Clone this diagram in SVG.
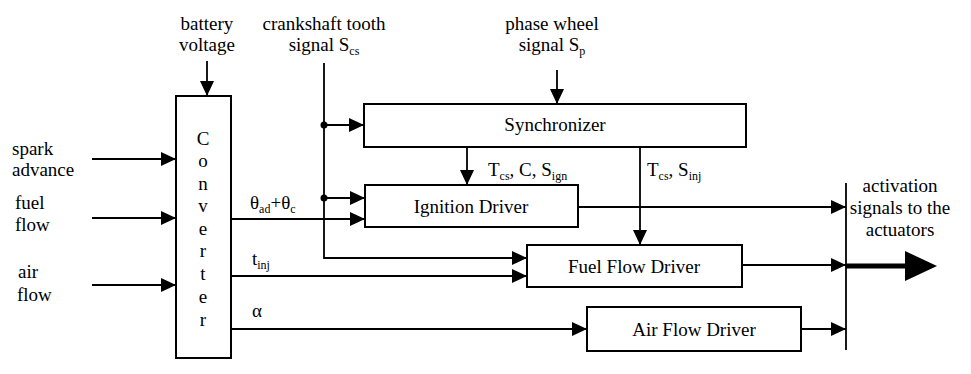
<svg xmlns="http://www.w3.org/2000/svg" width="971" height="374" viewBox="0 0 971 374">
<defs>
<style>
text{font-family:"Liberation Serif","Times New Roman",serif;font-size:19px;fill:#000}
.c{text-anchor:middle}
.sub{font-size:12px}
.box{fill:#fff;stroke:#000;stroke-width:2}
.ln{fill:none;stroke:#000;stroke-width:1.8}
</style>
<marker id="ah" markerUnits="userSpaceOnUse" markerWidth="16" markerHeight="16" refX="15" refY="7" orient="auto">
<path d="M0,0 L15,7 L0,14 Z" fill="#000"/>
</marker>
</defs>
<rect width="971" height="374" fill="#fff"/>

<g id="labels">
<text class="c" x="207" y="30">battery</text>
<text class="c" x="207" y="51">voltage</text>
<text class="c" x="324" y="30">crankshaft tooth</text>
<text class="c" x="324" y="51">signal S<tspan class="sub" dy="4">cs</tspan></text>
<text class="c" x="552" y="30">phase wheel</text>
<text class="c" x="552" y="51">signal S<tspan class="sub" dy="4">p</tspan></text>
<text x="12" y="155">spark</text>
<text x="12" y="176">advance</text>
<text x="15" y="209">fuel</text>
<text x="15" y="231">flow</text>
<text x="18" y="278">air</text>
<text x="17" y="301">flow</text>
<text x="250" y="209">θ<tspan class="sub" dy="4">ad</tspan><tspan dy="-4">+θ</tspan><tspan class="sub" dy="4">c</tspan></text>
<text x="252" y="265">t<tspan class="sub" dy="4">inj</tspan></text>
<text x="252" y="317">α</text>
<text x="488" y="176">T<tspan class="sub" dy="4">cs</tspan><tspan dy="-4">, C, S</tspan><tspan class="sub" dy="4">ign</tspan></text>
<text x="647" y="176">T<tspan class="sub" dy="4">cs</tspan><tspan dy="-4">, S</tspan><tspan class="sub" dy="4">inj</tspan></text>
<text class="c" x="900" y="192">activation</text>
<text class="c" x="900" y="214">signals to the</text>
<text class="c" x="900" y="236">actuators</text>
</g>

<g id="converter">
<rect class="box" x="176" y="96" width="55" height="262"/>
<text class="c" x="203" y="145">C</text>
<text class="c" x="203" y="167">o</text>
<text class="c" x="203" y="190">n</text>
<text class="c" x="203" y="212">v</text>
<text class="c" x="203" y="235">e</text>
<text class="c" x="203" y="257">r</text>
<text class="c" x="203" y="280">t</text>
<text class="c" x="203" y="303">e</text>
<text class="c" x="203" y="326">r</text>
</g>

<g id="synchronizer">
<rect class="box" x="364" y="104" width="382" height="43"/>
<text class="c" x="555" y="131">Synchronizer</text>
</g>

<g id="ignition-driver">
<rect class="box" x="365" y="185" width="213" height="42"/>
<text class="c" x="471" y="213">Ignition Driver</text>
</g>

<g id="fuel-flow-driver">
<rect class="box" x="527" y="245" width="215" height="42"/>
<text class="c" x="634" y="273">Fuel Flow Driver</text>
</g>

<g id="air-flow-driver">
<rect class="box" x="587" y="307" width="214" height="44"/>
<text class="c" x="694" y="336">Air Flow Driver</text>
</g>

<g id="connectors">
<line class="ln" x1="207" y1="61" x2="207" y2="96" marker-end="url(#ah)"/>
<line class="ln" x1="557" y1="70" x2="557" y2="104" marker-end="url(#ah)"/>
<line class="ln" x1="92" y1="159" x2="176" y2="159" marker-end="url(#ah)"/>
<line class="ln" x1="92" y1="218" x2="176" y2="218" marker-end="url(#ah)"/>
<line class="ln" x1="92" y1="285" x2="176" y2="285" marker-end="url(#ah)"/>
<polyline class="ln" points="324,63 324,258 527,258" marker-end="url(#ah)"/>
<circle cx="324" cy="125" r="3.5" fill="#000"/>
<line class="ln" x1="324" y1="125" x2="364" y2="125" marker-end="url(#ah)"/>
<circle cx="324" cy="198" r="3.5" fill="#000"/>
<line class="ln" x1="324" y1="198" x2="365" y2="198" marker-end="url(#ah)"/>
<line class="ln" x1="231" y1="219" x2="365" y2="219" marker-end="url(#ah)"/>
<line class="ln" x1="467" y1="147" x2="467" y2="185" marker-end="url(#ah)"/>
<line class="ln" x1="640" y1="147" x2="640" y2="245" marker-end="url(#ah)"/>
<line class="ln" x1="231" y1="276" x2="527" y2="276" marker-end="url(#ah)"/>
<line class="ln" x1="231" y1="329" x2="587" y2="329" marker-end="url(#ah)"/>
<line class="ln" x1="578" y1="207" x2="846" y2="207" marker-end="url(#ah)"/>
<line class="ln" x1="742" y1="265" x2="846" y2="265" marker-end="url(#ah)"/>
<line class="ln" x1="801" y1="329" x2="846" y2="329" marker-end="url(#ah)"/>
<line class="ln" x1="846" y1="183" x2="846" y2="350"/>
<line x1="846" y1="266" x2="907" y2="266" stroke="#000" stroke-width="5"/>
<polygon points="905,251 937,266 905,281" fill="#000"/>
</g>
</svg>
